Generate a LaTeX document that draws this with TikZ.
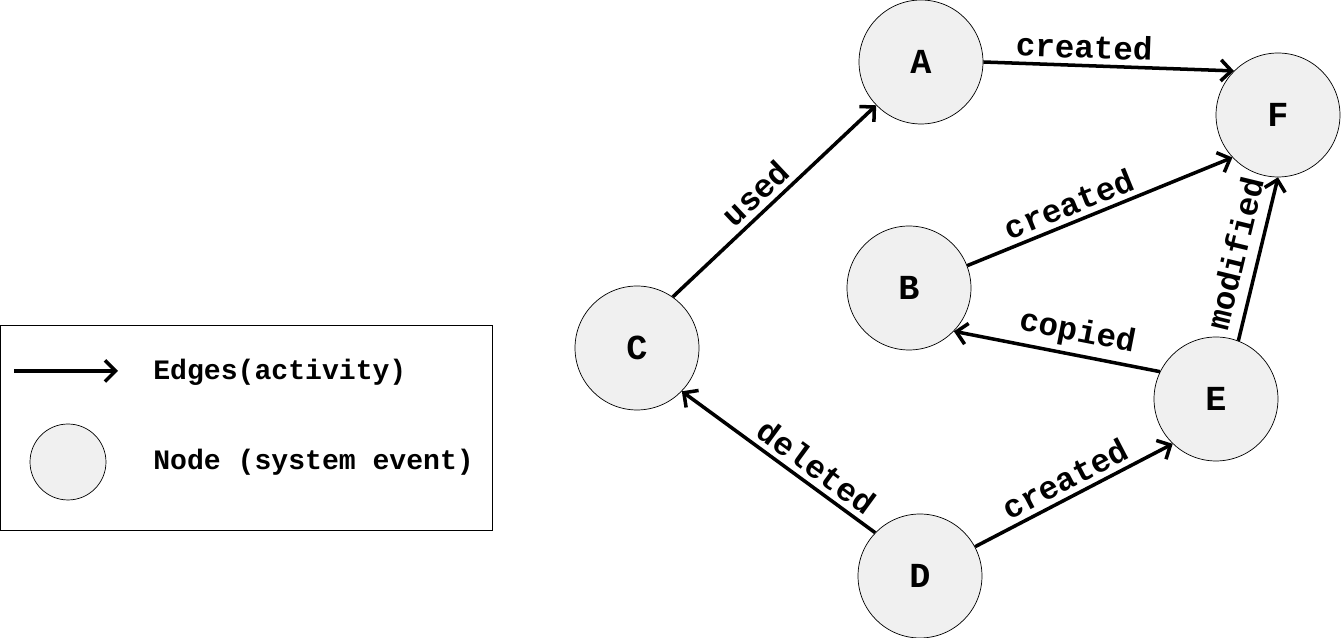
\documentclass[tikz,border=0pt]{standalone}
\usepackage{fontspec}
\newfontfamily\cour{Liberation Mono}
\usetikzlibrary{arrows.meta}

\begin{document}
\begin{tikzpicture}[x=0.02cm,y=0.02cm,
    event/.style={circle,draw,thin,fill=gray!12,minimum size=2.48cm,inner sep=0pt,
      font=\cour\bfseries\fontsize{20}{24}\selectfont},
    act/.style={line width=2pt,-{Straight Barb[length=6pt,width=12pt]}},
    lbl/.style={sloped,above,inner sep=3pt,font=\cour\bfseries\fontsize{18.5}{20}\selectfont},
    legtxt/.style={anchor=west,inner sep=0pt,font=\cour\bfseries\fontsize{16}{18}\selectfont}]
  \useasboundingbox (0,0) rectangle (1343,638);

  % legend
  \draw[thin] (0,108) rectangle (492,313);
  \coordinate (lfrom) at (14,267);
  \coordinate (lto) at (118,267);
  \draw[act] (lfrom) -- (lto);
  \node[legtxt] (ledges) at (153,266) {Edges(activity)};
  \node[event,minimum size=1.52cm] (lnode) at (68,176) {};
  \node[legtxt] (lnodes) at (153,176) {Node (system event)};

  % events
  \node[event] (A) at (921,576) {A};
  \node[event] (F) at (1278,523) {F};
  \node[event] (B) at (909,350) {B};
  \node[event] (C) at (637,290) {C};
  \node[event] (D) at (920,62) {D};
  \node[event] (E) at (1216,239) {E};

  % activities
  \draw[act] (C.55) -- node[lbl,pos=0.47] {used} (A.224);
  \draw[act] (A.east) -- node[lbl,pos=0.4] {created} (F.135);
  \draw[act] (B.21) -- node[lbl,pos=0.41] {created} (F.223);
  \draw[act] (E.69) -- node[lbl,pos=0.5,inner sep=6pt] {modified} (F.270);
  \draw[act] (E.154) -- node[lbl,pos=0.42] {copied} (B.316);
  \draw[act] (D.136) -- node[lbl,pos=0.36] {deleted} (C.316);
  \draw[act] (D.28) -- node[lbl,pos=0.5] {created} (E.226);
\end{tikzpicture}
\end{document}
